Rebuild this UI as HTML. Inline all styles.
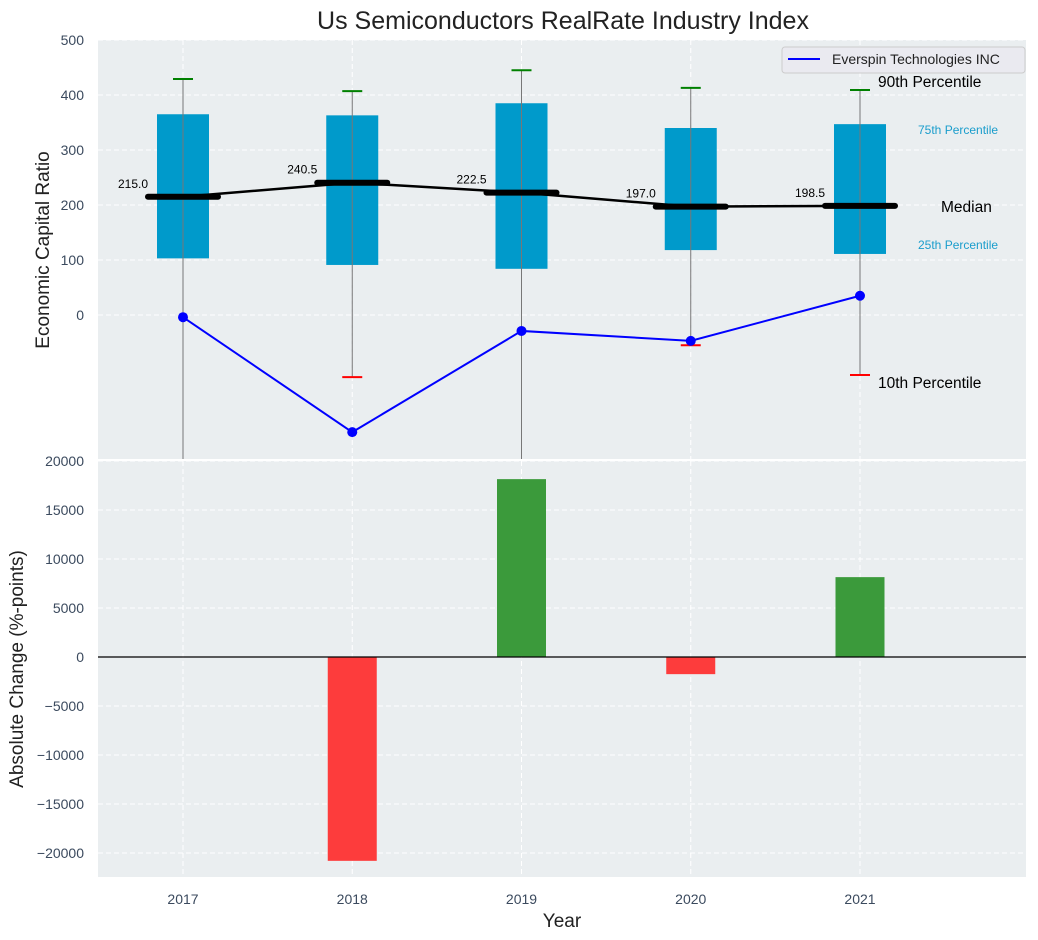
<!DOCTYPE html>
<html><head><meta charset="utf-8"><style>
body{margin:0;background:#fff;}
svg{display:block;font-family:"Liberation Sans",sans-serif;}
</style></head><body>
<svg id="c" width="1038" height="940" xmlns="http://www.w3.org/2000/svg"></svg>
<script>
const years=[2017,2018,2019,2020,2021];
const p10=[-300,-113,-300,-55,-109];
const p25=[103,91,84,118,111];
const median=[215,240.5,222.5,197,198.5];
const p75=[365,363,385,340,347];
const p90=[429,407,445,413,409];
const company=[-4,-213,-29,-47,35];
const change=[0,-20800,18150,-1750,8150];
const topTicks=[0,100,200,300,400,500];
const botTicks=[-20000,-15000,-10000,-5000,0,5000,10000,15000,20000];

const NS="http://www.w3.org/2000/svg";
const svg=document.getElementById('c');
function el(t,a,p){const e=document.createElementNS(NS,t);for(const k in a)e.setAttribute(k,a[k]);(p||svg).appendChild(e);return e;}
const L=98,R=1026;
const x=v=>183+(v-2017)*169.25;
const yT=v=>315-v*0.55;
const yB=v=>657-v*0.0098;
const T1=40,B1=459,T2=461,B2=877;
const tc="#3b4a5e";

let e=el('rect',{x:L,y:T1,width:R-L,height:B1-T1,fill:"#eaeef0"});

e=el('rect',{x:L,y:T2,width:R-L,height:B2-T2,fill:"#eaeef0"});


const clip1=el('clipPath',{id:'c1'});el('rect',{x:L,y:T1,width:R-L,height:B1-T1},clip1);
const g1=el('g',{'clip-path':'url(#c1)'});
const g2=el('g',{});

years.forEach(yr=>{
 el('line',{x1:x(yr),x2:x(yr),y1:T1,y2:B1,stroke:"#fff","stroke-dasharray":"5,3","stroke-width":1},g1);
 el('line',{x1:x(yr),x2:x(yr),y1:T2,y2:B2,stroke:"#fff","stroke-dasharray":"5,3","stroke-width":1},g2);
 const t=el('text',{x:x(yr),y:904,"text-anchor":"middle","font-size":14,fill:tc});t.textContent=yr;
 
});
topTicks.forEach(v=>{
 el('line',{x1:L,x2:R,y1:yT(v),y2:yT(v),stroke:"#fff","stroke-dasharray":"5,3"},g1);
 const t=el('text',{x:84,y:yT(v)+5,"text-anchor":"end","font-size":14,fill:tc});t.textContent=v;
 
});
botTicks.forEach(v=>{
 el('line',{x1:L,x2:R,y1:yB(v),y2:yB(v),stroke:"#fff","stroke-dasharray":"5,3"},g2);
 const t=el('text',{x:84,y:yB(v)+5,"text-anchor":"end","font-size":14,fill:tc});t.textContent=(v<0?"\u2212"+(-v):v);
 
});

years.forEach((yr,i)=>{
 const b=el('rect',{x:x(yr)-26,y:yT(p75[i]),width:52,height:yT(p25[i])-yT(p75[i]),fill:"#009acb"},g1);
 
 el('line',{x1:x(yr),x2:x(yr),y1:yT(p90[i]),y2:yT(p10[i]),stroke:"#777","stroke-width":1},g1);
 let w=el('line',{x1:x(yr)-10,x2:x(yr)+10,y1:yT(p90[i]),y2:yT(p90[i]),stroke:"green","stroke-width":2},g1);
 
 w=el('line',{x1:x(yr)-10,x2:x(yr)+10,y1:yT(p10[i]),y2:yT(p10[i]),stroke:"red","stroke-width":2},g1);
 
});
let pts=years.map((yr,i)=>x(yr)+","+yT(median[i])).join(" ");
el('polyline',{points:pts,fill:"none",stroke:"#000","stroke-width":2.5},g1);
years.forEach((yr,i)=>{
 const m=el('line',{x1:x(yr)-35,x2:x(yr)+35,y1:yT(median[i]),y2:yT(median[i]),stroke:"#000","stroke-width":6,"stroke-linecap":"round"},g1);
 
 const t=el('text',{x:x(yr)-35,y:yT(median[i])-9,"text-anchor":"end","font-size":12,fill:"#000"},g1);t.textContent=median[i].toFixed(1);
 
});
pts=years.map((yr,i)=>x(yr)+","+yT(company[i])).join(" ");
e=el('polyline',{points:pts,fill:"none",stroke:"#0000ff","stroke-width":2},g1);

years.forEach((yr,i)=>{const c=el('circle',{cx:x(yr),cy:yT(company[i]),r:5,fill:"#0000ff"},g1);
 });

const last=years.length-1, xa=x(years[last]);
function ann(txt,xx,yy,size,col,name){const t=el('text',{x:xx,y:yy,"font-size":size,fill:col});t.textContent=txt;return t;}
ann("90th Percentile",xa+18,yT(p90[last])-3,15.5,"#000","p90-annotation");
ann("75th Percentile",918,yT(p75[last])+10,12,"#1a9dcc","p75-annotation");
ann("Median",941,yT(median[last])+6,15.5,"#000","median-annotation");
ann("25th Percentile",918,yT(p25[last])-5,12,"#1a9dcc","p25-annotation");
ann("10th Percentile",xa+18,yT(p10[last])+13,15.5,"#000","p10-annotation");

const lg=el('g',{});
el('rect',{x:782,y:47,width:243,height:26,rx:3,fill:"#eaeaf0",stroke:"#ccc"},lg);
el('line',{x1:788,x2:820,y1:59,y2:59,stroke:"#0000ff","stroke-width":2},lg);
let lt=el('text',{x:832,y:64,"font-size":14,fill:"#222"},lg);lt.textContent="Everspin Technologies INC";

years.forEach((yr,i)=>{
 const v=change[i];
 const b=el('rect',{x:x(yr)-24.5,y:Math.min(yB(v),yB(0)),width:49,height:Math.abs(yB(v)-yB(0)),fill:v>=0?"#3b9a3b":"#fd3c3c"},g2);
 
});
el('line',{x1:L,x2:R,y1:yB(0),y2:yB(0),stroke:"#000","stroke-width":1.2},g2);
el('line',{x1:L,x2:R,y1:460,y2:460,stroke:"#fff","stroke-width":2});

const tt=ann("Us Semiconductors RealRate Industry Index",563,29,25,"#222","chart-title");
tt.setAttribute('text-anchor','middle');
let t=el('text',{x:49,y:250,"font-size":19,fill:"#222","text-anchor":"middle",transform:"rotate(-90 49 250)"});t.textContent="Economic Capital Ratio";

t=el('text',{x:23,y:669,"font-size":19,fill:"#222","text-anchor":"middle",transform:"rotate(-90 23 669)"});t.textContent="Absolute Change (%-points)";

t=el('text',{x:562,y:927,"font-size":19,fill:"#222","text-anchor":"middle"});t.textContent="Year";

</script>
</body></html>
